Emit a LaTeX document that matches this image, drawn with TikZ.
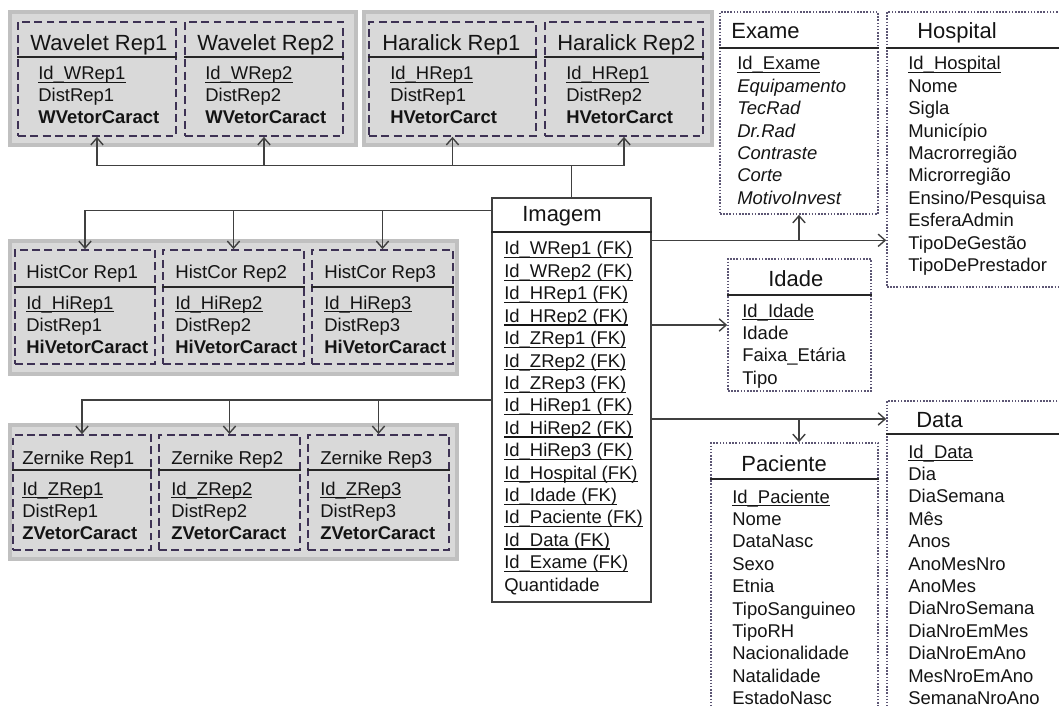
\documentclass[tikz,border=0pt]{standalone}
\usepackage{fontspec}
\setmainfont{Liberation Sans}
\usetikzlibrary{arrows.meta,fit}
\definecolor{grpfill}{RGB}{217,217,217}
\definecolor{grpline}{RGB}{192,192,192}
\definecolor{repline}{RGB}{62,50,84}
\definecolor{tblline}{RGB}{92,86,116}
\definecolor{linecol}{RGB}{64,64,64}
\definecolor{txt}{RGB}{20,20,20}
% key attribute, underlined close to the baseline
\newcommand\pkey[1]{\setbox0\hbox{#1}\rlap{\vrule height -1.3pt depth 1.9pt width \wd0}\box0}
\tikzset{
	grp/.style={fill=grpfill, draw=grpline, line width=2pt, inner sep=0pt},
	rep/.style={draw=repline, line width=1pt, dash pattern=on 4.5pt off 2.5pt, inner sep=0pt},
	tbl/.style={draw=tblline, line width=0.9pt, dash pattern=on 0.9pt off 0.9pt, inner sep=0pt},
	fact/.style={draw=linecol, line width=0.8pt, fill=white, inner sep=0pt},
	hline/.style={draw=black!85, line width=0.7pt},
	ttl/.style={font=\fontsize{12.5}{14}\selectfont, text=txt, anchor=base west, inner sep=0pt},
	ttls/.style={font=\fontsize{10.6}{12}\selectfont, text=txt, anchor=base west, inner sep=0pt},
	attr/.style={font=\fontsize{10.5}{12}\selectfont, text=txt, anchor=base west, inner sep=0pt},
	arr/.style={draw=linecol, line width=0.8pt, -{Straight Barb[length=4pt,width=7pt]}}
}
\begin{document}
\begin{tikzpicture}[x=0.02cm, y=-0.02cm]
	\useasboundingbox (0,0) rectangle (1059,706);
	
	%groups of representations
	\node[grp, fit={(10,12) (356,145)}] (wgrp) {};
	\node[grp, fit={(364,12) (712,145)}] (hgrp) {};
	\node[grp, fit={(10,241) (457,374)}] (higrp) {};
	\node[grp, fit={(10,425) (457,559)}] (zgrp) {};
	
	%wavelet and haralick
	\foreach \n/\xa/\xb/\xt/\xi/\tt/\id/\d/\v in {
		w1/18/176/30/38/Wavelet Rep1/Id\_WRep1/DistRep1/WVetorCaract,
		w2/185/343/197/205/Wavelet Rep2/Id\_WRep2/DistRep2/WVetorCaract,
		h1/369/536/382/390/Haralick Rep1/Id\_HRep1/DistRep1/HVetorCarct,
		h2/545/703/557/566/Haralick Rep2/Id\_HRep1/DistRep2/HVetorCarct}{
		\node[rep, fit={(\xa,22) (\xb,136)}] (\n) {};
		\draw[hline] (\n.west |- 0,57) -- (\n.east |- 0,57);
		\node[ttl] (\n-t) at (\xt,51) {\tt};
		\node[attr] (\n-a) at (\xi,80) {\pkey{\id}};
		\node[attr] (\n-b) at (\xi,102) {\d};
		\node[attr] (\n-c) at (\xi,124) {\textbf{\v}};
	}
	
	%histcor
	\foreach \i/\xa/\xb/\xi in {1/15/155/26, 2/163/304/175, 3/312/453/324}{
		\node[rep, fit={(\xa,250) (\xb,364)}] (hi\i) {};
		\draw[hline] (hi\i.west |- 0,287) -- (hi\i.east |- 0,287);
		\node[ttls] (hi\i-t) at (\xi,278) {HistCor Rep\i};
		\node[attr] (hi\i-a) at (\xi,309) {\pkey{Id\_HiRep\i}};
		\node[attr] (hi\i-b) at (\xi,331) {DistRep\i};
		\node[attr] (hi\i-c) at (\xi,353) {\textbf{HiVetorCaract}};
	}
	
	%zernike
	\foreach \i/\xa/\xb/\xi in {1/13/151/22, 2/159/300/171, 3/308/449/320}{
		\node[rep, fit={(\xa,435) (\xb,550)}] (z\i) {};
		\draw[hline] (z\i.west |- 0,470) -- (z\i.east |- 0,470);
		\node[ttls] (z\i-t) at (\xi,464) {Zernike Rep\i};
		\node[attr] (z\i-a) at (\xi,495) {\pkey{Id\_ZRep\i}};
		\node[attr] (z\i-b) at (\xi,517) {DistRep\i};
		\node[attr] (z\i-c) at (\xi,539) {\textbf{ZVetorCaract}};
	}
	
	%fact table
	\node[fact, fit={(492,198) (651,602)}] (imagem) {};
	\draw[hline] (imagem.west |- 0,232) -- (imagem.east |- 0,232);
	\node[ttl] (imagem-t) at (522,221) {Imagem};
	\foreach \t [count=\i from 0] in {Id\_WRep1 (FK), Id\_WRep2 (FK), Id\_HRep1 (FK), Id\_HRep2 (FK),
		Id\_ZRep1 (FK), Id\_ZRep2 (FK), Id\_ZRep3 (FK), Id\_HiRep1 (FK), Id\_HiRep2 (FK), Id\_HiRep3 (FK),
		Id\_Hospital (FK), Id\_Idade (FK), Id\_Paciente (FK), Id\_Data (FK), Id\_Exame (FK)}{
		\node[attr] (imagem-\i) at (504,255+22.4*\i) {\pkey{\t}};
	}
	\node[attr] (imagem-15) at (504,591) {Quantidade};
	
	%exame
	\node[tbl, fit={(720,12) (878,214)}] (exame) {};
	\draw[hline] (exame.west |- 0,48) -- (exame.east |- 0,48);
	\node[ttl] (exame-t) at (731,39) {Exame};
	\node[attr] (exame-0) at (737,70) {\pkey{Id\_Exame}};
	\foreach \t [count=\i] in {Equipamento, TecRad, Dr.Rad, Contraste, Corte, MotivoInvest}{
		\node[attr] (exame-\i) at (737,70+22.4*\i) {\textit{\t}};
	}
	
	%hospital
	\node[tbl, fit={(887,12) (1072,287)}] (hospital) {};
	\draw[hline] (hospital.west |- 0,48) -- (hospital.east |- 0,48);
	\node[ttl] (hospital-t) at (917,39) {Hospital};
	\node[attr] (hospital-0) at (908,70) {\pkey{Id\_Hospital}};
	\foreach \t [count=\i] in {Nome, Sigla, Município, Macrorregião, Microrregião, Ensino/Pesquisa,
		EsferaAdmin, TipoDeGestão, TipoDePrestador}{
		\node[attr] (hospital-\i) at (908,70+22.4*\i) {\t};
	}
	
	%idade
	\node[tbl, fit={(728,259) (871,391)}] (idade) {};
	\draw[hline] (idade.west |- 0,295) -- (idade.east |- 0,295);
	\node[ttl] (idade-t) at (768,286) {Idade};
	\node[attr] (idade-0) at (742,317) {\pkey{Id\_Idade}};
	\foreach \t [count=\i] in {Idade, Faixa\_Etária, Tipo}{
		\node[attr] (idade-\i) at (742,317+22.4*\i) {\t};
	}
	
	%paciente
	\node[tbl, fit={(711,443) (878,720)}] (paciente) {};
	\draw[hline] (paciente.west |- 0,479) -- (paciente.east |- 0,479);
	\node[ttl] (paciente-t) at (741,471) {Paciente};
	\node[attr] (paciente-0) at (732,503) {\pkey{Id\_Paciente}};
	\foreach \t [count=\i] in {Nome, DataNasc, Sexo, Etnia, TipoSanguineo, TipoRH, Nacionalidade,
		Natalidade, EstadoNasc}{
		\node[attr] (paciente-\i) at (732,503+22.4*\i) {\t};
	}
	
	%data
	\node[tbl, fit={(887,401) (1072,720)}] (data) {};
	\draw[hline] (data.west |- 0,434) -- (data.east |- 0,434);
	\node[ttl] (data-t) at (916,427) {Data};
	\node[attr] (data-0) at (908,458) {\pkey{Id\_Data}};
	\foreach \t [count=\i] in {Dia, DiaSemana, Mês, Anos, AnoMesNro, AnoMes, DiaNroSemana, DiaNroEmMes,
		DiaNroEmAno, MesNroEmAno, SemanaNroAno}{
		\node[attr] (data-\i) at (908,458+22.4*\i) {\t};
	}
	
	%connectors
	\path (imagem.north west) ++(0,13) coordinate (img-hi);
	\path (imagem.north east) ++(0,43) coordinate (img-hosp);
	\path (imagem.east) ++(0,19) coordinate (img-data);
	
	\foreach \b in {w1, w2, h1, h2}{
		\draw[arr] (imagem.north) -- ++(0,-32) -| (\b.south);
	}
	\foreach \b in {hi1, hi2, hi3}{
		\draw[arr] (img-hi) -| (\b.north);
	}
	\foreach \b in {z1, z2, z3}{
		\draw[arr] (imagem.west) -| (\b.north);
	}
	\draw[arr] (img-hosp) -- (img-hosp -| hospital.west);
	\draw[arr] (img-hosp -| exame.south) -- (exame.south);
	\draw[arr] (imagem.east |- idade.west) -- (idade.west);
	\draw[arr] (img-data) -- (img-data -| data.west);
	\draw[arr] (img-data -| exame.south) -- (paciente.north -| exame.south);
\end{tikzpicture}
\end{document}
